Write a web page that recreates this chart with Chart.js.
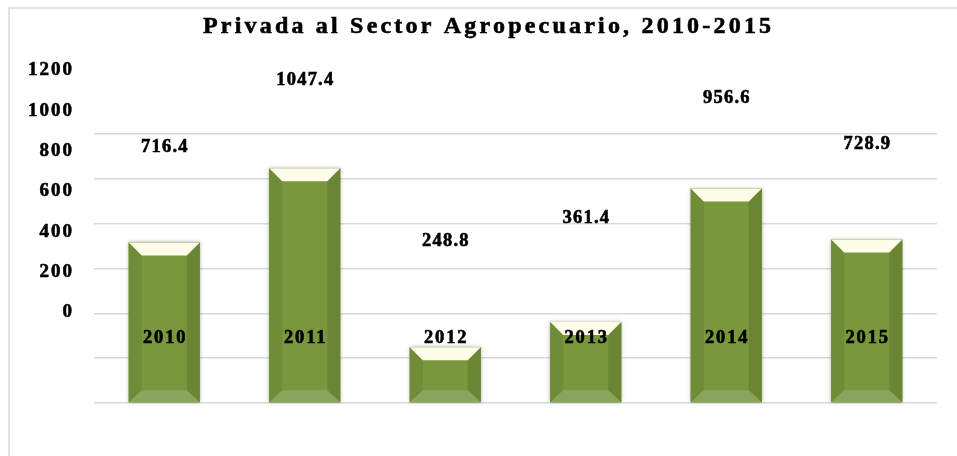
<!DOCTYPE html>
<html lang="es">
<head>
<meta charset="utf-8">
<title>Privada al Sector Agropecuario, 2010-2015</title>
<script src="https://cdn.jsdelivr.net/npm/chart.js@4.4.1/dist/chart.umd.min.js"></script>
<style>
  html, body { margin: 0; padding: 0; background: #fff; }
  canvas { display: block; }
</style>
</head>
<body>
<canvas id="chart-credito" width="957" height="456"></canvas>
<script>
// ===== DATOS =====
const titulo = 'Privada al Sector Agropecuario, 2010-2015';
const anios  = ['2010', '2011', '2012', '2013', '2014', '2015'];
const montos = [716.4, 1047.4, 248.8, 361.4, 956.6, 728.9];
const ejeMin  = 0;
const ejeMax  = 1200;
const ejePaso = 200;

// ===== ESTILO =====
const FUENTE = '"Liberation Serif", "Times New Roman", serif';
const COLORES = {
    frente:   '#79983d',
    tapa:     '#fdfde9',
    izq:      '#6f8d37',
    der:      '#6a8634',
    base:     '#8aa45b',
    grilla:   '#d9d9d9',
    texto:    '#000000'
};
const BISEL_X = 13, BISEL_TOP = 13, BISEL_BASE = 12;

// texto con espaciado entre letras (el canvas lo suma también al final)
function texto(ctx, str, x, y, size, spacing, align) {
    ctx.save();
    ctx.font = `bold ${size}px ${FUENTE}`;
    if ('letterSpacing' in ctx) ctx.letterSpacing = spacing + 'px';
    else spacing = 0;
    ctx.fillStyle = COLORES.texto;
    ctx.strokeStyle = COLORES.texto;
    ctx.lineWidth = 0.6;
    ctx.textAlign = 'left';
    ctx.textBaseline = 'alphabetic';
    const w = ctx.measureText(str).width - spacing;
    let x0 = x;
    if (align === 'center') x0 = x - w / 2;
    else if (align === 'right') x0 = x - w;
    // y es el centro visual de las cifras
    const yb = y + size * 0.338;
    ctx.fillText(str, x0, yb);
    ctx.strokeText(str, x0, yb);   // trazo fino: el original se ve más grueso
    ctx.restore();
}

function poly(ctx, pts, color) {
    ctx.beginPath();
    ctx.moveTo(pts[0][0], pts[0][1]);
    for (let i = 1; i < pts.length; i++) ctx.lineTo(pts[i][0], pts[i][1]);
    ctx.closePath();
    ctx.fillStyle = color;
    ctx.fill();
}

// ===== PLUGIN: marco, biseles y rótulos =====
const biselPlugin = {
    id: 'bisel',
    beforeDraw(chart) {
        const ctx = chart.ctx;
        ctx.save();
        ctx.strokeStyle = COLORES.grilla;
        ctx.lineWidth = 1.5;
        ctx.strokeRect(9, 8, chart.width + 50, chart.height + 50);
        ctx.restore();
    },
    beforeDatasetsDraw(chart) {
        const ctx = chart.ctx;
        ctx.save();
        ctx.shadowColor = 'rgba(0,0,0,0.3)';
        ctx.shadowBlur = 4;
        ctx.fillStyle = COLORES.frente;
        chart.getDatasetMeta(0).data.forEach(bar => {
            ctx.fillRect(bar.x - bar.width / 2, bar.y, bar.width, bar.base - bar.y);
        });
        ctx.restore();
    },
    afterDatasetsDraw(chart) {
        const ctx = chart.ctx;
        ctx.save();
        chart.getDatasetMeta(0).data.forEach(bar => {
            const l = bar.x - bar.width / 2, r = bar.x + bar.width / 2;
            const t = bar.y, b = bar.base;
            poly(ctx, [[l, t], [l + BISEL_X, t + BISEL_TOP], [l + BISEL_X, b - BISEL_BASE], [l, b]], COLORES.izq);
            poly(ctx, [[r, t], [r, b], [r - BISEL_X, b - BISEL_BASE], [r - BISEL_X, t + BISEL_TOP]], COLORES.der);
            poly(ctx, [[l, b], [r, b], [r - BISEL_X, b - BISEL_BASE], [l + BISEL_X, b - BISEL_BASE]], COLORES.base);
            poly(ctx, [[l, t], [r, t], [r - BISEL_X, t + BISEL_TOP], [l + BISEL_X, t + BISEL_TOP]], COLORES.tapa);
        });
        ctx.restore();
    },
    afterDraw(chart) {
        const ctx = chart.ctx;
        const y = chart.scales.y, yEt = chart.scales.yEtiq, x = chart.scales.x;

        // título
        texto(ctx, titulo, 487, 25, 24, 3.2, 'center');

        // rótulos del eje (desplazados como en el original)
        y.ticks.forEach(t => {
            texto(ctx, String(t.value), 72, yEt.getPixelForValue(t.value), 19, 2, 'right');
        });

        // valores y años
        montos.forEach((v, i) => {
            const cx = x.getPixelForValue(i);
            texto(ctx, v.toFixed(1), cx, yEt.getPixelForValue(v) - 21.3, 18.5, 1.2, 'center');
            texto(ctx, anios[i], cx, y.getPixelForValue(0) - 66, 18.5, 1.8, 'center');
        });
    }
};

// ===== GRÁFICO =====
new Chart(document.getElementById('chart-credito'), {
    type: 'bar',
    data: {
        labels: anios,
        datasets: [{
            data: montos,
            backgroundColor: COLORES.frente,
            borderWidth: 0,
            barPercentage: 0.505,
            categoryPercentage: 1.0
        }]
    },
    options: {
        responsive: false,
        animation: false,
        layout: { padding: { top: 134, left: 94, right: 20, bottom: 53 } },
        plugins: {
            legend: { display: false },
            title: { display: false },
            tooltip: { enabled: false }
        },
        scales: {
            x: {
                grid: { display: false, drawTicks: false },
                border: { display: false },
                ticks: { display: false }
            },
            y: {
                min: ejeMin,
                max: ejeMax,
                ticks: { stepSize: ejePaso, display: false },
                grid: { color: COLORES.grilla, lineWidth: 1.5, drawTicks: false },
                border: { display: false }
            },
            yEtiq: {
                type: 'linear',
                position: 'left',
                display: false,
                min: -456,
                max: 878
            }
        }
    },
    plugins: [biselPlugin]
});
</script>
</body>
</html>
